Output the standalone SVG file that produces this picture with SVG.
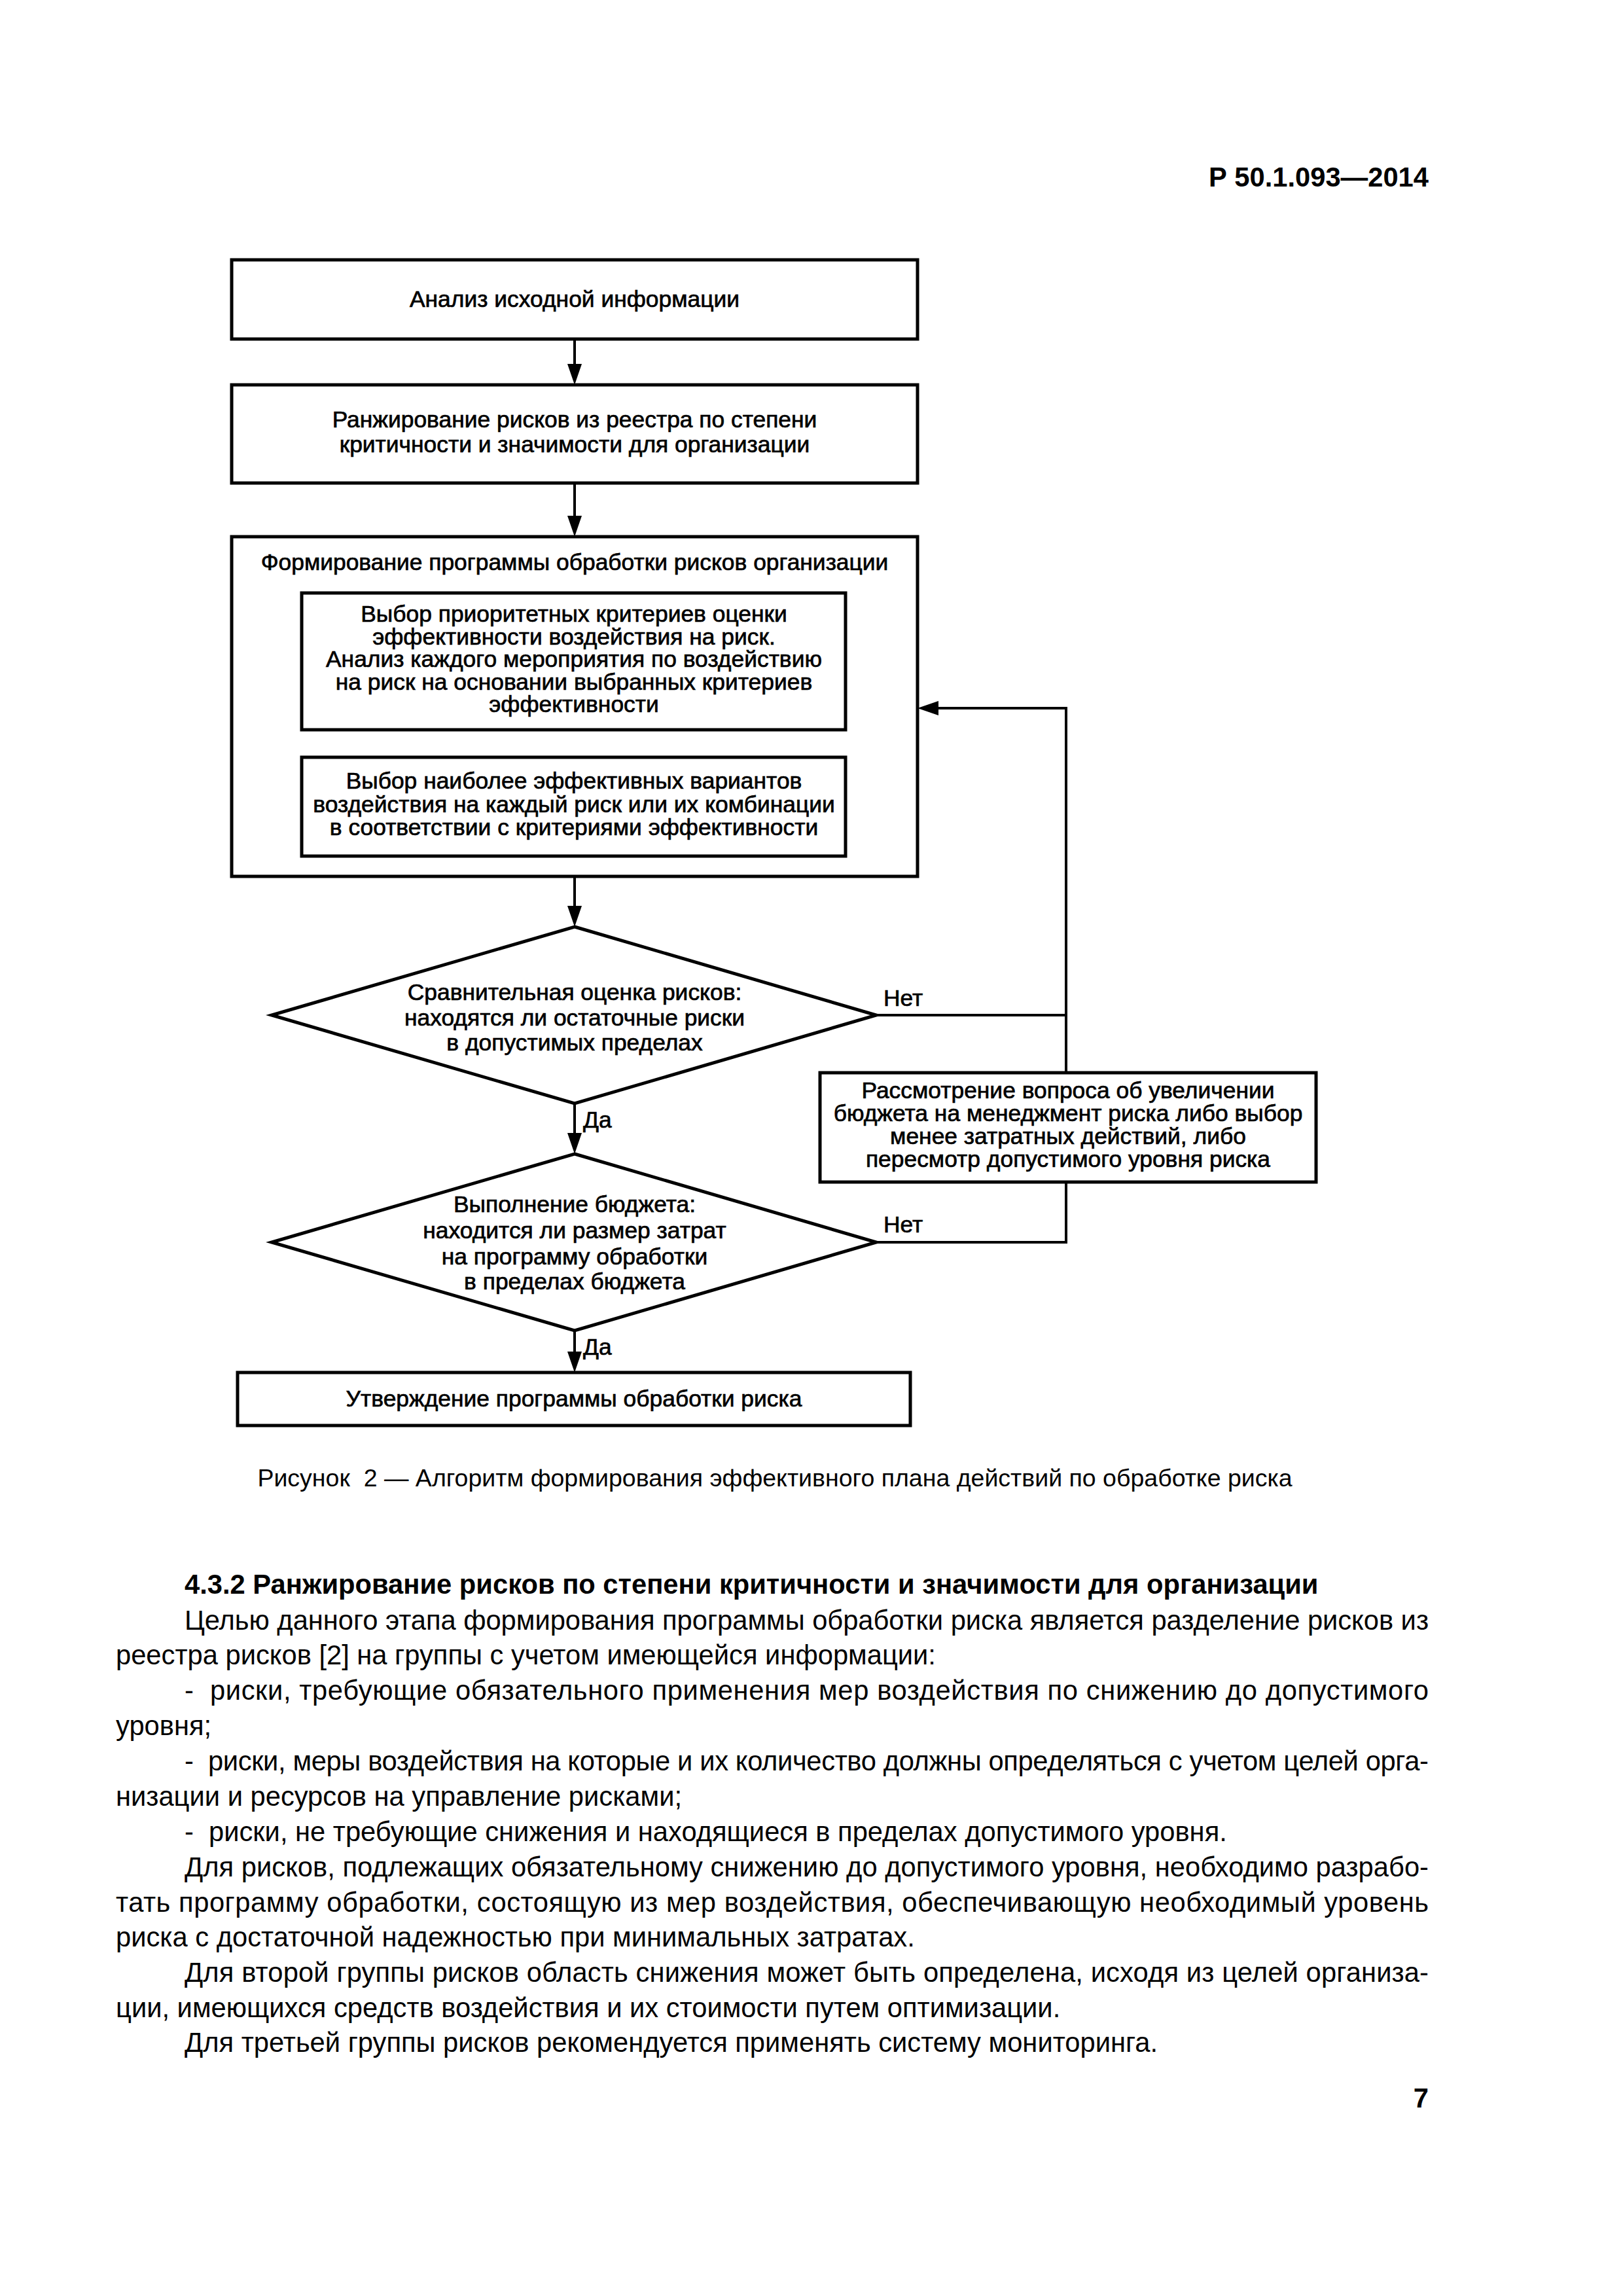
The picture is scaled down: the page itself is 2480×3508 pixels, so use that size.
<svg xmlns="http://www.w3.org/2000/svg" width="2480" height="3508" viewBox="0 0 2480 3508">
<style>
text{font-family:"Liberation Sans",Arial,sans-serif;fill:#000}
.d{font-size:35.4px;text-anchor:middle;stroke:#000;stroke-width:0.7}
.lbl{font-size:35.4px;stroke:#000;stroke-width:0.7}
.box{fill:#fff;stroke:#000;stroke-width:5}
.con{fill:none;stroke:#000;stroke-width:4}
.b{font-size:41.7px}
.hb{font-size:41.7px;font-weight:bold}
.cap{font-size:37.5px;text-anchor:middle}
</style>
<defs>
<marker id="arr" markerWidth="32" markerHeight="22" refX="22" refY="11" orient="auto" markerUnits="userSpaceOnUse">
<path d="M0,0 L32,11 L0,22 z" fill="#000"/>
</marker>
</defs>
<rect width="2480" height="3508" fill="#fff"/>
<text class="hb" x="2183" y="285" text-anchor="end">Р 50.1.093—2014</text>

<g id="connectors">
<line class="con" x1="878" y1="518" x2="878" y2="578" marker-end="url(#arr)"/>
<line class="con" x1="878" y1="738" x2="878" y2="810" marker-end="url(#arr)"/>
<line class="con" x1="878" y1="1115" x2="878" y2="1147" marker-end="url(#arr)"/>
<line class="con" x1="878" y1="1339" x2="878" y2="1406" marker-end="url(#arr)"/>
<line class="con" x1="878" y1="1686" x2="878" y2="1753" marker-end="url(#arr)"/>
<line class="con" x1="878" y1="2033" x2="878" y2="2087" marker-end="url(#arr)"/>
<polyline class="con" points="1339,1551 1629,1551"/>
<polyline class="con" points="1629,1639 1629,1082 1412,1082" marker-end="url(#arr)"/>
<polyline class="con" points="1629,1806 1629,1898 1339,1898"/>
<text class="lbl" x="1350" y="1537">Нет</text>
<text class="lbl" x="1350" y="1883">Нет</text>
<text class="lbl" x="891" y="1723">Да</text>
<text class="lbl" x="891" y="2070">Да</text>
</g>

<g id="n1">
<rect class="box" x="354" y="397" width="1048" height="121"/>
<text class="d" x="878" y="469">Анализ исходной информации</text>
</g>
<g id="n2">
<rect class="box" x="354" y="588" width="1048" height="150"/>
<text class="d" x="878" y="653">Ранжирование рисков из реестра по степени</text>
<text class="d" x="878" y="691">критичности и значимости для организации</text>
</g>
<g id="n3">
<rect class="box" x="354" y="820" width="1048" height="519"/>
<text class="d" x="878" y="871">Формирование программы обработки рисков организации</text>
</g>
<g id="n3a">
<rect class="box" x="461" y="906" width="831" height="209"/>
<text class="d" x="877" y="950">Выбор приоритетных критериев оценки</text>
<text class="d" x="877" y="985">эффективности воздействия на риск.</text>
<text class="d" x="877" y="1019">Анализ каждого мероприятия по воздействию</text>
<text class="d" x="877" y="1054">на риск на основании выбранных критериев</text>
<text class="d" x="877" y="1088">эффективности</text>
</g>
<g id="n3b">
<rect class="box" x="461" y="1157" width="831" height="151"/>
<text class="d" x="877" y="1205">Выбор наиболее эффективных вариантов</text>
<text class="d" x="877" y="1241">воздействия на каждый риск или их комбинации</text>
<text class="d" x="877" y="1276">в соответствии с критериями эффективности</text>
</g>
<g id="n4">
<polygon class="box" points="878,1416 1339,1551 878,1686 415,1551"/>
<text class="d" x="878" y="1528">Сравнительная оценка рисков:</text>
<text class="d" x="878" y="1567">находятся ли остаточные риски</text>
<text class="d" x="878" y="1605">в допустимых пределах</text>
</g>
<g id="n5">
<rect class="box" x="1253" y="1639" width="758" height="167"/>
<text class="d" x="1632" y="1678">Рассмотрение вопроса об увеличении</text>
<text class="d" x="1632" y="1713">бюджета на менеджмент риска либо выбор</text>
<text class="d" x="1632" y="1748">менее затратных действий, либо</text>
<text class="d" x="1632" y="1783">пересмотр допустимого уровня риска</text>
</g>
<g id="n6">
<polygon class="box" points="878,1763 1339,1898 878,2033 415,1898"/>
<text class="d" x="878" y="1852">Выполнение бюджета:</text>
<text class="d" x="878" y="1892">находится ли размер затрат</text>
<text class="d" x="878" y="1932">на программу обработки</text>
<text class="d" x="878" y="1970">в пределах бюджета</text>
</g>
<g id="n7">
<rect class="box" x="363" y="2097" width="1028" height="81"/>
<text class="d" x="877" y="2149">Утверждение программы обработки риска</text>
</g>

<text class="cap" x="1184" y="2271">Рисунок&#160;&#160;2 — Алгоритм формирования эффективного плана действий по обработке риска</text>

<text class="hb" x="282" y="2435">4.3.2 Ранжирование рисков по степени критичности и значимости для организации</text>
<text class="b" x="282" y="2490" textLength="1901" lengthAdjust="spacing">Целью данного этапа формирования программы обработки риска является разделение рисков из</text>
<text class="b" x="177" y="2543">реестра рисков [2] на группы с учетом имеющейся информации:</text>
<text class="b" x="282" y="2597" textLength="1901" lengthAdjust="spacing">-&#160; риски, требующие обязательного применения мер воздействия по снижению до допустимого</text>
<text class="b" x="177" y="2651">уровня;</text>
<text class="b" x="282" y="2705" textLength="1901" lengthAdjust="spacing">-&#160; риски, меры воздействия на которые и их количество должны определяться с учетом целей орга-</text>
<text class="b" x="177" y="2759">низации и ресурсов на управление рисками;</text>
<text class="b" x="282" y="2813">-&#160; риски, не требующие снижения и находящиеся в пределах допустимого уровня.</text>
<text class="b" x="282" y="2867" textLength="1901" lengthAdjust="spacing">Для рисков, подлежащих обязательному снижению до допустимого уровня, необходимо разрабо-</text>
<text class="b" x="177" y="2921" textLength="2006" lengthAdjust="spacing">тать программу обработки, состоящую из мер воздействия, обеспечивающую необходимый уровень</text>
<text class="b" x="177" y="2974">риска с достаточной надежностью при минимальных затратах.</text>
<text class="b" x="282" y="3028" textLength="1901" lengthAdjust="spacing">Для второй группы рисков область снижения может быть определена, исходя из целей организа-</text>
<text class="b" x="177" y="3082">ции, имеющихся средств воздействия и их стоимости путем оптимизации.</text>
<text class="b" x="282" y="3135">Для третьей группы рисков рекомендуется применять систему мониторинга.</text>
<text class="hb" x="2183" y="3220" text-anchor="end">7</text>
</svg>
